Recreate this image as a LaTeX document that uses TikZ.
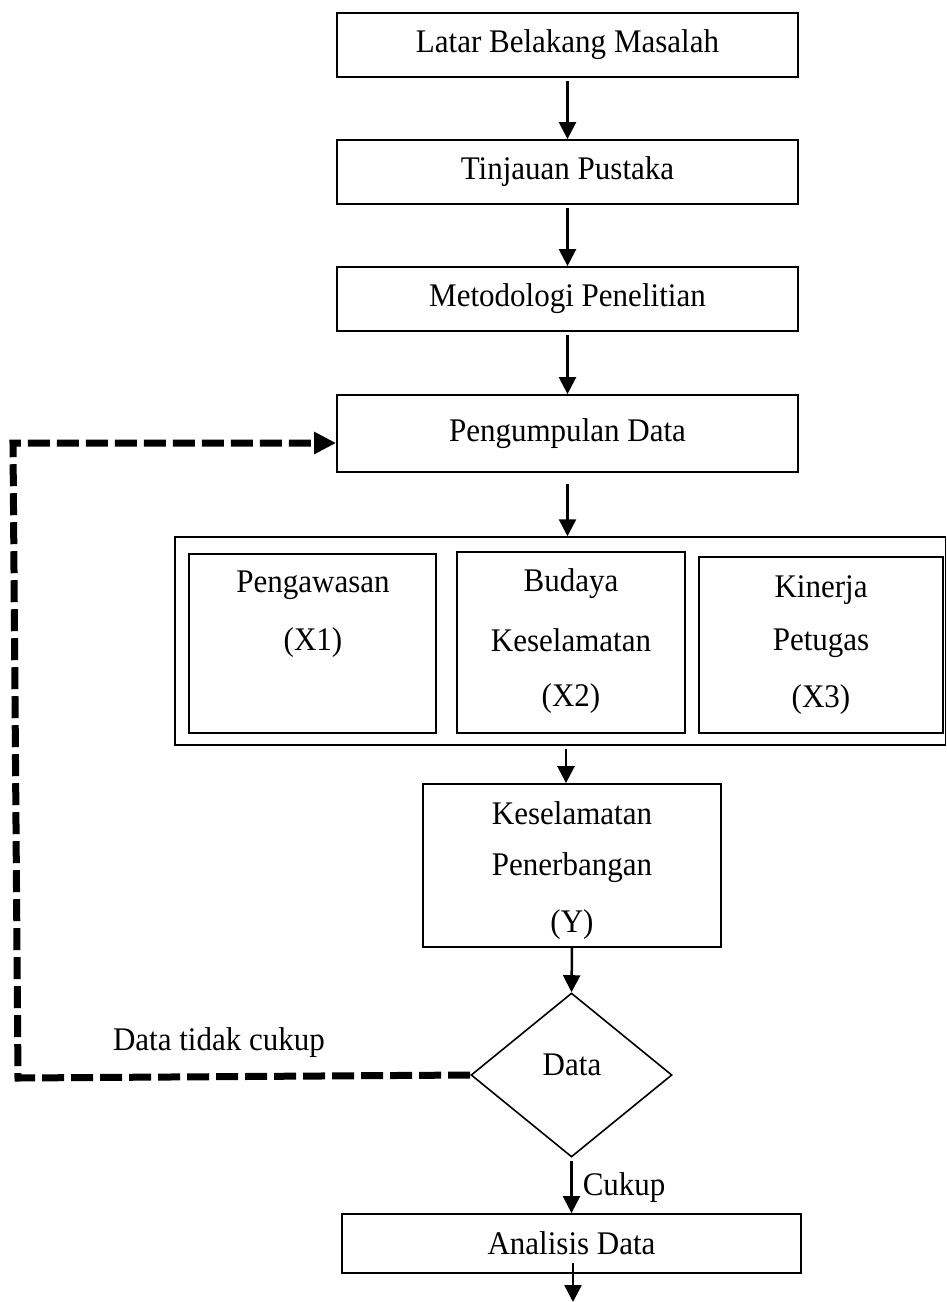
\documentclass[tikz,border=0pt]{standalone}
\usepackage{fontspec}
\setmainfont{Liberation Serif}[FakeStretch=0.94]
\usetikzlibrary{arrows.meta,shapes.geometric}
\begin{document}
\begin{tikzpicture}[x=0.5pt,y=-0.5pt,
  font=\fontsize{16.5}{28}\selectfont,
  box/.style={draw,line width=0.9pt,inner sep=0pt,align=center},
  innerbox/.style={draw,line width=1.2pt,inner sep=0pt},
  lbl/.style={inner sep=0pt,align=center},
  arr/.style={line width=1.25pt,-{Triangle[length=8.5pt,width=8.5pt]}},
  dasharr/.style={line width=3.5pt,dash pattern=on 11pt off 3.5pt,line cap=butt,-{Triangle[length=11pt,width=10.5pt]}}
]
\useasboundingbox (0,0) rectangle (947,1302);
% main column
\node[box,minimum width=230.5pt,minimum height=32pt] (b1) at (567.5,45) {Latar Belakang Masalah};
\node[box,minimum width=230.5pt,minimum height=32pt] (b2) at (567.5,172) {Tinjauan Pustaka};
\node[box,minimum width=230.5pt,minimum height=32pt] (b3) at (567.5,299) {Metodologi Penelitian};
\node[box,minimum width=230.5pt,minimum height=38.5pt] (b4) at (567.5,433.5) {Pengumpulan Data};
% variable group
\node[draw,line width=0.75pt,inner sep=0pt,minimum width=385.25pt,minimum height=104pt] (grp) at (560.25,641) {};
\node[innerbox,minimum width=123.5pt,minimum height=89.5pt] (v1) at (312.5,643.5) {};
\node[innerbox,minimum width=114pt,minimum height=90.5pt] (v2) at (571,642.5) {};
\node[innerbox,minimum width=122pt,minimum height=88pt] (v3) at (821,645) {};
\node[lbl] (t1a) at (313,585) {Pengawasan};
\node[lbl] (t1b) at (313,643) {(X1)};
\node[lbl] (t2a) at (571,584) {Budaya};
\node[lbl] (t2b) at (571,640) {Keselamatan};
\node[lbl] (t2c) at (571,699) {(X2)};
\node[lbl] (t3a) at (821,590) {Kinerja};
\node[lbl] (t3b) at (821,643) {Petugas};
\node[lbl] (t3c) at (821,700) {(X3)};
% dependent variable
\node[draw,line width=0.9pt,inner sep=0pt,minimum width=149pt,minimum height=81.5pt] (y) at (572,865.5) {};
\node[lbl] (ya) at (572,813) {Keselamatan};
\node[lbl] (yb) at (572,868) {Penerbangan};
\node[lbl] (yc) at (572,925) {(Y)};
% decision
\node[draw,diamond,line width=0.8pt,inner sep=0pt,minimum width=100.5pt,minimum height=82pt] (dia) at (571.5,1075) {};
\node[lbl] (diat) at (572,1065) {Data};
\node[box,minimum width=229.5pt,minimum height=29.5pt] (ana) at (571.5,1243.5) {Analisis Data};
% connectors
\draw[arr,shorten <=1.5pt] (b1.south) -- (b2.north);
\draw[arr,shorten <=1.5pt] (b2.south) -- (b3.north);
\draw[arr,shorten <=1.5pt] (b3.south) -- (b4.north);
\draw[arr,shorten <=5.5pt] (b4.south) -- (b4.south |- grp.north);
\draw[arr,shorten <=1.5pt] ([xshift=-3pt]y.north |- grp.south) -- ([xshift=-3pt]y.north);
\draw[arr] (y.south) -- (dia.north);
\draw[arr,shorten <=1.5pt] (dia.south) -- node[right,inner sep=0pt,xshift=5pt,yshift=-1pt] (cukup) {Cukup} (ana.north);
\coordinate (aout) at (573,1263);
\coordinate (aend) at (573,1302);
\draw[arr] (aout) -- (aend);
% dashed loop
\coordinate (c1) at (18,1078);
\coordinate (c2) at (13,443);
\draw[dasharr] (dia.west) -- (c1) -- (c2) -- (b4.west |- c2);
\node[lbl] (ntc) at (219,1043) {Data tidak cukup};
\end{tikzpicture}
\end{document}
